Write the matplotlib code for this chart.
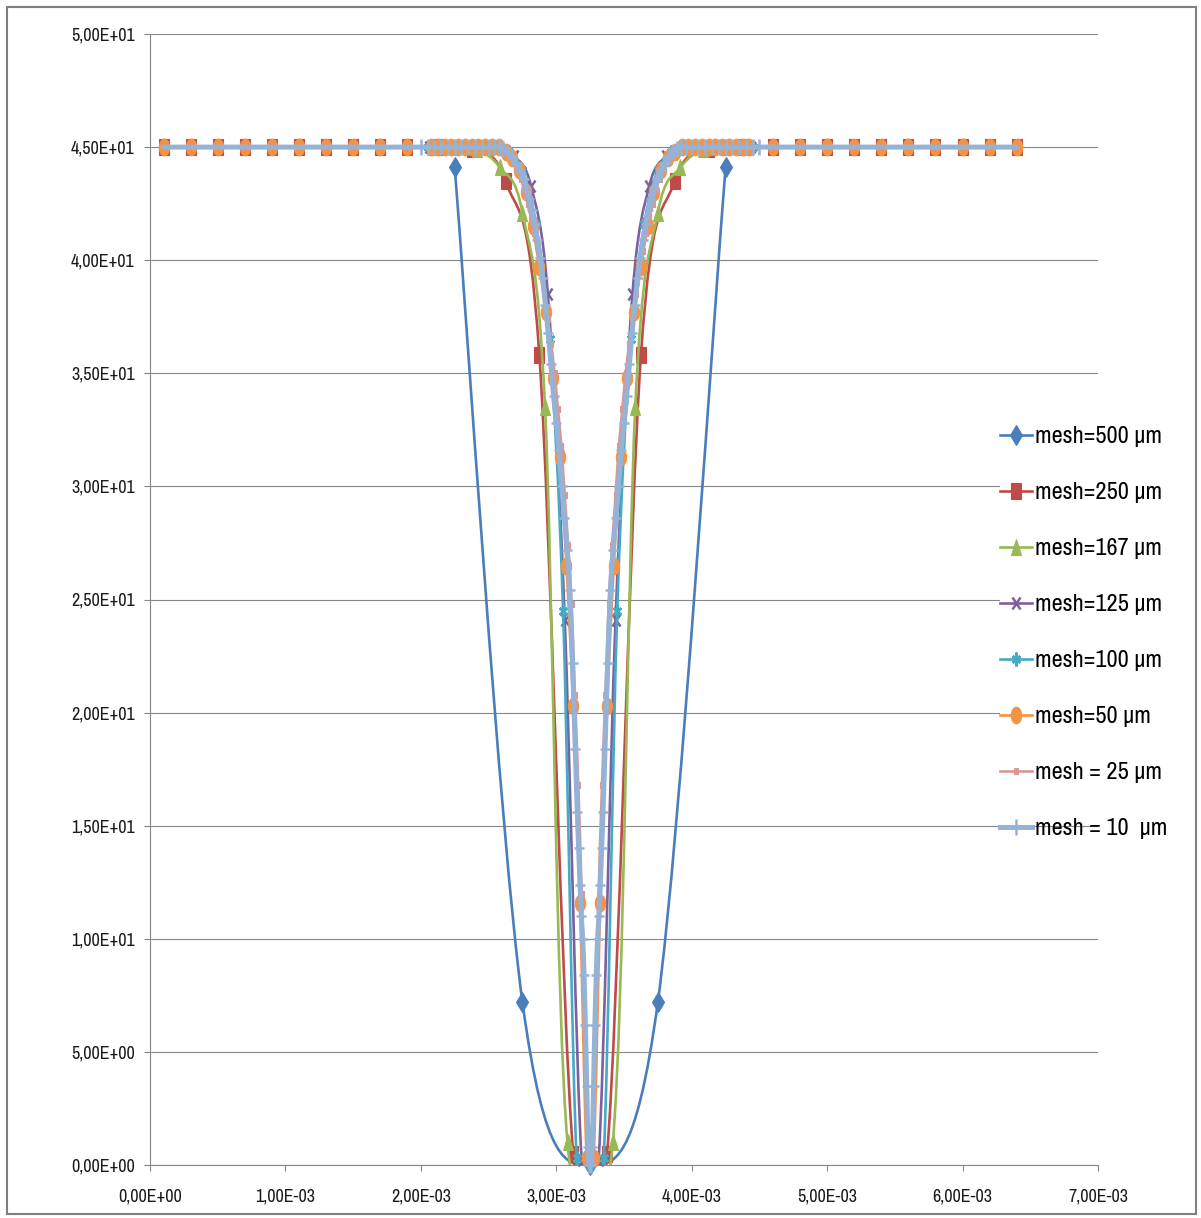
import matplotlib as mpl
import matplotlib.pyplot as plt
import numpy as np
from matplotlib.path import Path
from matplotlib.patches import PathPatch, Rectangle
from matplotlib.markers import MarkerStyle
from matplotlib.lines import Line2D
from matplotlib.transforms import Affine2D
from matplotlib.ticker import MultipleLocator, FuncFormatter

plateau_left_x = [0.1, 0.3, 0.5, 0.7, 0.9, 1.1, 1.3, 1.5, 1.7, 1.9]
plateau_right_x = [4.6, 4.8, 5.0, 5.2, 5.4, 5.6, 5.8, 6.0, 6.2, 6.4]
plateau_y = 45.0

labels = ["mesh=500 \u00b5m", "mesh=250 \u00b5m", "mesh=167 \u00b5m", "mesh=125 \u00b5m",
          "mesh=100 \u00b5m", "mesh=50 \u00b5m", "mesh = 25 \u00b5m", "mesh = 10  \u00b5m"]

mesh500_x = [2.25, 2.75, 3.25, 3.75, 4.25]
mesh500_y = [44.1, 7.2, 0.0, 7.2, 44.1]

mesh250_x = [2.125, 2.375, 2.625, 2.875, 3.125, 3.375, 3.625, 3.875, 4.125, 4.375]
mesh250_y = [45.0, 44.9, 43.5, 35.8, 0.5, 0.5, 35.8, 43.5, 44.9, 45.0]

mesh167_x = [2.083, 2.25, 2.417, 2.583, 2.75, 2.917, 3.083,
             3.417, 3.583, 3.75, 3.917, 4.083, 4.25, 4.417]
mesh167_y = [45.0, 45.0, 44.9, 44.1, 42.1, 33.5, 1.0,
             1.0, 33.5, 42.1, 44.1, 44.9, 45.0, 45.0]

mesh125_x = [2.0625, 2.1875, 2.3125, 2.4375, 2.5625, 2.6875, 2.8125, 2.9375, 3.0625, 3.1875,
             3.3125, 3.4375, 3.5625, 3.6875, 3.8125, 3.9375, 4.0625, 4.1875, 4.3125, 4.4375]
mesh125_y = [45.0, 45.0, 45.0, 45.0, 44.9, 44.6, 43.3, 38.5, 24.1, 0.2,
             0.2, 24.1, 38.5, 43.3, 44.6, 44.9, 45.0, 45.0, 45.0, 45.0]

mesh100_x = [2.05, 2.15, 2.25, 2.35, 2.45, 2.55, 2.65, 2.75, 2.85, 2.95, 3.05, 3.15, 3.25,
             3.35, 3.45, 3.55, 3.65, 3.75, 3.85, 3.95, 4.05, 4.15, 4.25, 4.35, 4.45]
mesh100_y = [45.0, 45.0, 45.0, 45.0, 45.0, 45.0, 44.8, 44.0, 41.6, 36.5, 24.5, 0.3, 0.0,
             0.3, 24.5, 36.5, 41.6, 44.0, 44.8, 45.0, 45.0, 45.0, 45.0, 45.0, 45.0]

mesh50_x = [2.075, 2.125, 2.175, 2.225, 2.275, 2.325, 2.375, 2.425, 2.475, 2.525, 2.575, 2.625,
            2.675, 2.725, 2.775, 2.825, 2.875, 2.925, 2.975, 3.025, 3.075, 3.125, 3.175, 3.225,
            3.275, 3.325, 3.375, 3.425, 3.475, 3.525, 3.575, 3.625, 3.675, 3.725, 3.775, 3.825,
            3.875, 3.925, 3.975, 4.025, 4.075, 4.125, 4.175, 4.225, 4.275, 4.325, 4.375, 4.425]
mesh50_y = [45.0, 45.0, 45.0, 45.0, 45.0, 45.0, 45.0, 45.0, 45.0, 45.0, 45.0, 44.8,
            44.5, 44.0, 43.0, 41.5, 39.7, 37.7, 34.8, 31.3, 26.5, 20.3, 11.6, 0.3,
            0.3, 11.6, 20.3, 26.5, 31.3, 34.8, 37.7, 39.7, 41.5, 43.0, 44.0, 44.5,
            44.8, 45.0, 45.0, 45.0, 45.0, 45.0, 45.0, 45.0, 45.0, 45.0, 45.0, 45.0]

mesh25_x = [2.5875, 2.6125, 2.6375, 2.6625, 2.6875, 2.7125, 2.7375, 2.7625, 2.7875, 2.8125,
            2.8375, 2.8625, 2.8875, 2.9125, 2.9375, 2.9625, 2.9875, 3.0125, 3.0375, 3.0625,
            3.0875, 3.1125, 3.1375, 3.1625, 3.1875, 3.2125, 3.2375,
            3.2625, 3.2875, 3.3125, 3.3375, 3.3625, 3.3875, 3.4125, 3.4375, 3.4625, 3.4875,
            3.5125, 3.5375, 3.5625, 3.5875, 3.6125, 3.6375, 3.6625, 3.6875, 3.7125, 3.7375,
            3.7625, 3.7875, 3.8125, 3.8375, 3.8625, 3.8875, 3.9125]
mesh25_y = [45.0, 44.9, 44.8, 44.6, 44.3, 44.0, 43.6, 43.1, 42.5, 41.9,
            41.2, 40.4, 39.5, 38.5, 37.4, 36.3, 35.0, 33.4, 31.8, 29.6,
            27.4, 24.8, 20.8, 16.8, 12.0, 6.0, 0.2,
            0.2, 6.0, 12.0, 16.8, 20.8, 24.8, 27.4, 29.6, 31.8, 33.4,
            35.0, 36.3, 37.4, 38.5, 39.5, 40.4, 41.2, 41.9, 42.5, 43.1,
            43.6, 44.0, 44.3, 44.6, 44.8, 44.9, 45.0]

mesh10_x = [2.00, 2.05, 2.10, 2.15, 2.20, 2.25, 2.30, 2.35, 2.40, 2.45, 2.50, 2.54,
            2.58, 2.61, 2.64, 2.67, 2.70, 2.73, 2.76, 2.78, 2.80, 2.82, 2.84, 2.86,
            2.88, 2.90, 2.92, 2.94, 2.96, 2.98, 3.00, 3.02, 3.04, 3.06, 3.08, 3.10,
            3.12, 3.14, 3.155, 3.165, 3.175, 3.185, 3.195, 3.205, 3.215, 3.225, 3.235, 3.245,
            3.255, 3.265, 3.275, 3.285, 3.295, 3.305, 3.315, 3.325, 3.335, 3.345, 3.36, 3.38,
            3.40, 3.42, 3.44, 3.46, 3.48, 3.50, 3.52, 3.54, 3.56, 3.58, 3.60, 3.62,
            3.64, 3.66, 3.68, 3.70, 3.72, 3.74, 3.77, 3.80, 3.83, 3.86, 3.89, 3.92,
            3.96, 4.00, 4.05, 4.10, 4.15, 4.20, 4.25, 4.30, 4.35, 4.40, 4.45, 4.50]
mesh10_y = [45.0, 45.0, 45.0, 45.0, 45.0, 45.0, 45.0, 45.0, 45.0, 45.0, 45.0, 45.0,
            45.0, 44.9, 44.8, 44.6, 44.3, 44.0, 43.6, 43.2, 42.7, 42.2, 41.6, 40.9,
            40.1, 39.2, 38.0, 36.8, 35.4, 34.0, 32.8, 31.6, 30.0, 28.6, 27.2, 25.4,
            22.2, 18.4, 15.6, 14.0, 12.4, 11.0, 10.0, 8.4, 6.2, 3.5, 0.8, 0.0,
            0.0, 0.8, 3.5, 6.2, 8.4, 10.0, 11.0, 12.4, 14.0, 15.6, 18.4, 22.2,
            25.4, 27.2, 28.6, 30.0, 31.6, 32.8, 34.0, 35.4, 36.8, 38.0, 39.2, 40.1,
            40.9, 41.6, 42.2, 42.7, 43.2, 43.6, 44.0, 44.3, 44.6, 44.8, 44.9, 45.0,
            45.0, 45.0, 45.0, 45.0, 45.0, 45.0, 45.0, 45.0, 45.0, 45.0, 45.0, 45.0]

W, H = 1201, 1218
FONT = ['Archivo Narrow', 'Asap Condensed', 'DejaVu Sans']
GRAY = '#868686'
SQUASH = Affine2D().scale(0.62, 1.0)


def smooth_path(xs, ys):
    """Excel-like smoothed line: cubic bezier through every point."""
    pts = np.column_stack([xs, ys])
    n = len(pts)
    verts = [pts[0]]
    codes = [Path.MOVETO]
    for i in range(n - 1):
        p0 = pts[max(i - 1, 0)]
        p1 = pts[i]
        p2 = pts[i + 1]
        p3 = pts[min(i + 2, n - 1)]
        verts += [p1 + (p2 - p0) / 6.0, p2 - (p3 - p1) / 6.0, p2]
        codes += [Path.CURVE4] * 3
    return Path(verts, codes)


def marker(m):
    return MarkerStyle(m, transform=SQUASH)


# (x, y, color, line width, marker, marker size, plateau?, markers on plateau?)
series = [
    (mesh500_x, mesh500_y, '#4A7EBB', 1.9, 'D', 10, False, False),
    (mesh250_x, mesh250_y, '#BE4B48', 1.9, 's', 12, True, True),
    (mesh167_x, mesh167_y, '#98B954', 1.9, '^', 12, True, False),
    (mesh125_x, mesh125_y, '#7D60A0', 1.9, 'x', 9, True, False),
    (mesh100_x, mesh100_y, '#46AAC5', 1.9, (6, 2, 0), 10, True, False),
    (mesh50_x, mesh50_y, '#F59343', 1.9, 'o', 12, True, True),
    (mesh25_x, mesh25_y, '#D99795', 1.9, 's', 4.5, True, False),
    (mesh10_x, mesh10_y, '#95B3D7', 3.6, '+', 12, True, False),
]

fig = plt.figure(figsize=(W / 100, H / 100), dpi=100)
ax = fig.add_axes([150 / W, 1 - 1165 / H, (1098 - 150) / W, (1165 - 34) / H])

handles = []
for k, (xs, ys, color, lw, m, ms, plateau, plateau_marks) in enumerate(series):
    z = 2 + k
    dip_x = np.array(xs) * 1e-3
    dip_y = np.array(ys)
    if plateau:
        px_l = np.array(plateau_left_x) * 1e-3
        px_r = np.array(plateau_right_x) * 1e-3
        full_x = np.concatenate([px_l, dip_x, px_r])
        full_y = np.concatenate([np.full(len(px_l), plateau_y), dip_y, np.full(len(px_r), plateau_y)])
    else:
        full_x, full_y = dip_x, dip_y

    ax.add_patch(PathPatch(smooth_path(full_x, full_y), facecolor='none', edgecolor=color,
                           lw=lw, zorder=z, joinstyle='round', capstyle='round'))
    mx, my = (full_x, full_y) if plateau_marks else (dip_x, dip_y)
    mew = 1.8 if m in ('x', '+', (6, 2, 0)) else 0.8
    ax.plot(mx, my, linestyle='none', marker=marker(m), ms=ms, color=color,
            mec=color, mew=mew, zorder=z + 0.5, clip_on=False)
    handles.append(Line2D([0], [0], color=color, lw=lw, marker=marker(m), ms=ms,
                          mec=color, mew=mew))

ax.set_xlim(0, 7e-3)
ax.set_ylim(0, 50)
ax.xaxis.set_major_locator(MultipleLocator(1e-3))
ax.yaxis.set_major_locator(MultipleLocator(5))
fmt = FuncFormatter(lambda v, p: "{:.2E}".format(v).replace('.', ','))
ax.xaxis.set_major_formatter(fmt)
ax.yaxis.set_major_formatter(fmt)

ax.set_axisbelow(True)
ax.grid(axis='y', color=GRAY, lw=0.8)
for side in ('top', 'right'):
    ax.spines[side].set_visible(False)
for side in ('left', 'bottom'):
    ax.spines[side].set_color(GRAY)
    ax.spines[side].set_linewidth(0.8)
ax.tick_params(axis='both', color=GRAY, length=4, width=0.8, labelsize=13, labelcolor='#1a1a1a')
ax.tick_params(axis='y', pad=7)
ax.tick_params(axis='x', pad=13)
for lab in ax.get_xticklabels() + ax.get_yticklabels():
    lab.set_family(FONT)

# white area behind the legend (hides part of the gridlines)
ax.add_patch(Rectangle((1000 / W, 1 - 815 / H), 100 / W, 400 / H, transform=fig.transFigure,
                       facecolor='white', edgecolor='none', zorder=1, clip_on=False))

leg = ax.legend(handles, labels, loc='upper left', bbox_to_anchor=(1000 / W, 1 - 426 / H),
                bbox_transform=fig.transFigure, frameon=False, borderpad=0, borderaxespad=0,
                handlelength=1.3, handletextpad=0.15, labelspacing=1.44,
                prop={'family': FONT, 'size': 17.5})
leg.set_zorder(20)

# outer chart border
fig.patches.append(Rectangle((7 / W, 1 - 1214 / H), (1196 - 7) / W, (1214 - 7) / H,
                             transform=fig.transFigure, fill=False, edgecolor='#7f7f7f', lw=1.5))

fig.savefig('out.png', dpi=100)
